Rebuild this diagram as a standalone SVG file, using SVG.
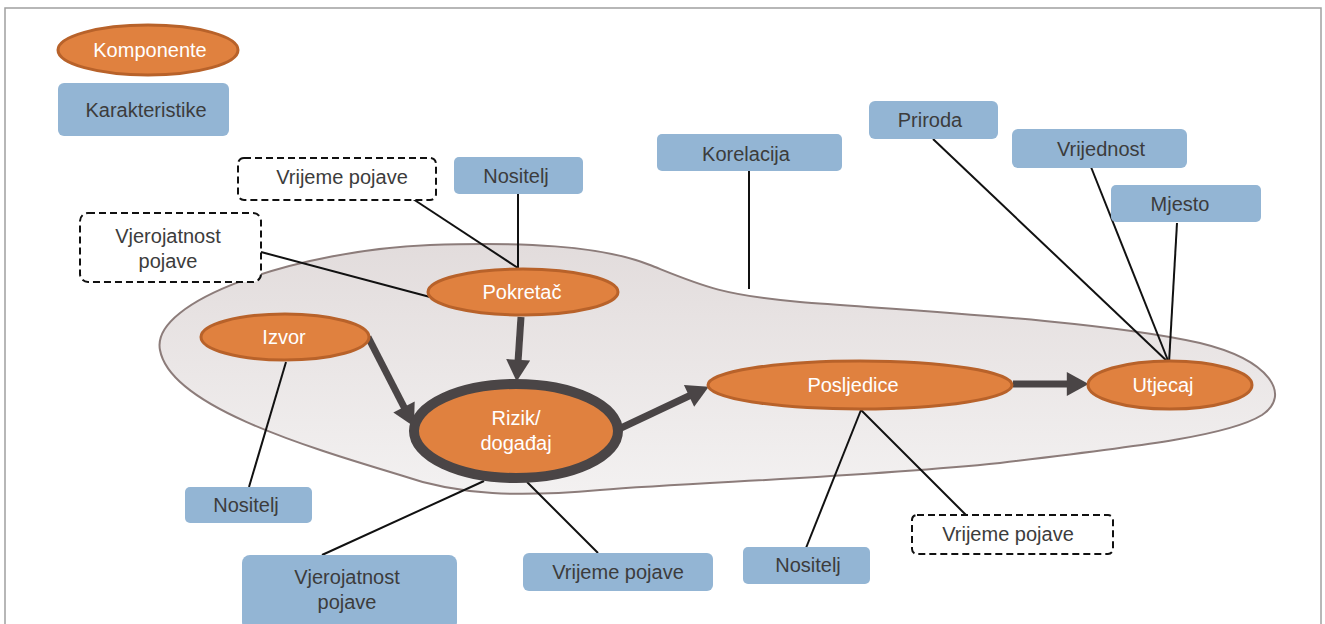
<svg xmlns="http://www.w3.org/2000/svg" width="1325" height="624" viewBox="0 0 1325 624">
<style>
.comp{fill:#e0813f;stroke:#b8622a;stroke-width:3}
.char{fill:#93b5d4;stroke:none}
.dash{fill:#fff;stroke:#111;stroke-width:2;stroke-dasharray:7,4}
.lt{font-family:"Liberation Sans",Arial,sans-serif;font-size:20px;text-anchor:middle;fill:#fff}
.dt{font-family:"Liberation Sans",Arial,sans-serif;font-size:20px;text-anchor:middle;fill:#3c3c3c}
.conn{stroke:#111;stroke-width:2;fill:none}
.arr{stroke:#4a4546;stroke-width:7;fill:none;marker-end:url(#ah)}
</style>
<defs>
<linearGradient id="bg" x1="0" y1="0" x2="0" y2="1">
<stop offset="0" stop-color="#e2dcdc"/>
<stop offset="1" stop-color="#f3f1f1"/>
</linearGradient>
<marker id="ah" markerUnits="userSpaceOnUse" markerWidth="24" markerHeight="24" viewBox="0 0 20 22" refX="2" refY="11" orient="auto">
<path d="M0,0 L20,11 L0,22 Z" fill="#4a4546"/>
</marker>
</defs>
<rect x="0" y="0" width="1325" height="624" fill="#fff"/>
<rect x="5" y="8" width="1316" height="640" fill="none" stroke="#a0a0a0" stroke-width="1.5"/>
<path id="blob" d="M160,350 C150,300 300,250 430,245 C520,242 600,245 650,265 C700,285 720,295 800,302 C900,310 1100,320 1200,343 C1270,360 1292,395 1262,415 C1230,435 1150,445 1000,463 C850,478 700,482 600,490 C520,497 460,496 400,475 C300,445 170,405 160,350 Z" fill="url(#bg)" stroke="#8c7c7a" stroke-width="2"/>
<g id="connectors">
<line class="conn" x1="749" y1="171" x2="749" y2="289"/>
<line class="conn" x1="518" y1="194" x2="518" y2="268"/>
<line class="conn" x1="413" y1="199" x2="518" y2="268"/>
<line class="conn" x1="261" y1="252" x2="430" y2="297"/>
<line class="conn" x1="933" y1="139" x2="1169" y2="363"/>
<line class="conn" x1="1091" y1="167" x2="1169" y2="363"/>
<line class="conn" x1="1177" y1="223" x2="1169" y2="363"/>
<line class="conn" x1="286" y1="362" x2="249" y2="487"/>
<line class="conn" x1="484" y1="481" x2="322" y2="555"/>
<line class="conn" x1="527" y1="482" x2="598" y2="553"/>
<line class="conn" x1="861" y1="410" x2="806" y2="548"/>
<line class="conn" x1="861" y1="410" x2="966" y2="515"/>
<line class="arr" x1="521" y1="317" x2="518" y2="362"/>
<line class="arr" x1="368" y1="337" x2="405" y2="409"/>
<line class="arr" x1="621" y1="428" x2="691" y2="395"/>
<line class="arr" x1="1013" y1="384" x2="1069" y2="384"/>
</g>
<g id="legend-komponente"><ellipse class="comp" cx="148" cy="50" rx="90" ry="25"/><text class="lt" x="150" y="57">Komponente</text></g>
<g id="legend-karakteristike"><rect class="char" x="58" y="83" width="171" height="53" rx="6"/><text class="dt" x="146" y="117">Karakteristike</text></g>
<g id="vrijeme-top"><rect class="dash" x="238" y="158" width="198" height="42" rx="6"/><text class="dt" x="342" y="184">Vrijeme pojave</text></g>
<g id="vjerojatnost-top"><rect class="dash" x="80" y="213" width="181" height="69" rx="8"/><text class="dt" x="168" y="243">Vjerojatnost</text><text class="dt" x="168" y="268">pojave</text></g>
<g id="nositelj-top"><rect class="char" x="454" y="157" width="129" height="37" rx="5"/><text class="dt" x="516" y="183">Nositelj</text></g>
<g id="korelacija"><rect class="char" x="657" y="134" width="185" height="37" rx="5"/><text class="dt" x="746" y="161">Korelacija</text></g>
<g id="priroda"><rect class="char" x="869" y="101" width="129" height="38" rx="6"/><text class="dt" x="930" y="127">Priroda</text></g>
<g id="vrijednost"><rect class="char" x="1012" y="129" width="175" height="39" rx="6"/><text class="dt" x="1101" y="156">Vrijednost</text></g>
<g id="mjesto"><rect class="char" x="1111" y="185" width="150" height="37" rx="5"/><text class="dt" x="1180" y="211">Mjesto</text></g>
<g id="pokretac"><ellipse class="comp" cx="523" cy="292" rx="95" ry="23"/><text class="lt" x="522" y="299">Pokretač</text></g>
<g id="izvor"><ellipse class="comp" cx="285" cy="337" rx="84" ry="23"/><text class="lt" x="284" y="344">Izvor</text></g>
<g id="rizik"><ellipse cx="516" cy="431" rx="102" ry="47" fill="#e0813f" stroke="#4a4546" stroke-width="10"/><text class="lt" x="516" y="425">Rizik/</text><text class="lt" x="516" y="450">događaj</text></g>
<g id="posljedice"><ellipse class="comp" cx="860" cy="385" rx="152" ry="24"/><text class="lt" x="853" y="392">Posljedice</text></g>
<g id="utjecaj"><ellipse class="comp" cx="1170" cy="385" rx="82" ry="24"/><text class="lt" x="1163" y="392">Utjecaj</text></g>
<g id="nositelj-left"><rect class="char" x="185" y="487" width="127" height="36" rx="5"/><text class="dt" x="246" y="512">Nositelj</text></g>
<g id="vjerojatnost-bottom"><rect class="char" x="242" y="555" width="215" height="75" rx="8"/><text class="dt" x="347" y="584">Vjerojatnost</text><text class="dt" x="347" y="609">pojave</text></g>
<g id="vrijeme-bottom"><rect class="char" x="523" y="553" width="190" height="38" rx="6"/><text class="dt" x="618" y="579">Vrijeme pojave</text></g>
<g id="nositelj-bottom"><rect class="char" x="743" y="547" width="127" height="37" rx="5"/><text class="dt" x="808" y="572">Nositelj</text></g>
<g id="vrijeme-right"><rect class="dash" x="912" y="515" width="201" height="39" rx="5"/><text class="dt" x="1008" y="541">Vrijeme pojave</text></g>
</svg>
